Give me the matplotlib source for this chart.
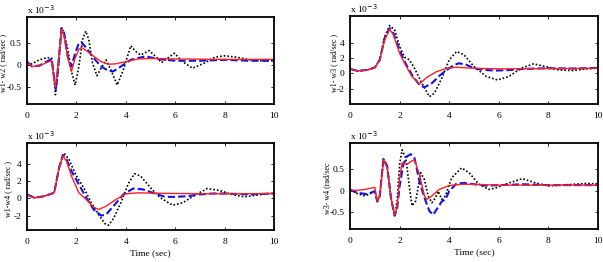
import matplotlib
matplotlib.use("Agg")
import matplotlib.pyplot as plt
import numpy as np

plt.rcParams['font.family'] = ['Liberation Serif', 'DejaVu Serif']

# ---------------- data (values in units of 1e-3 rad/sec) ----------------
# Panel 1: w1 - w2
p1_red_t = [0, 0.2, 0.5, 0.8, 1.0, 1.1, 1.15, 1.25, 1.4, 1.5, 1.65, 1.8, 1.95, 2.1, 2.2, 2.4, 2.7, 3.0, 3.3, 3.6, 4.0, 4.5, 5.0, 6.0, 8.0, 10]
p1_red_v = [0.06, -0.03, -0.02, 0.06, 0.10, -0.33, -0.50, -0.03, 0.82, 0.65, 0.16, -0.14, 0.16, 0.36, 0.40, 0.33, 0.20, 0.08, 0.02, 0.03, 0.08, 0.14, 0.15, 0.14, 0.13, 0.13]
p1_blue_t = [0, 0.2, 0.5, 0.8, 1.0, 1.1, 1.17, 1.25, 1.4, 1.5, 1.65, 1.8, 1.95, 2.1, 2.2, 2.4, 2.7, 3.0, 3.3, 3.5, 3.8, 4.2, 4.8, 5.3, 6.0, 7.0, 8.0, 9.0, 10]
p1_blue_v = [0.08, -0.03, -0.01, 0.08, 0.14, -0.30, -0.55, -0.11, 0.84, 0.73, 0.20, -0.03, 0.27, 0.50, 0.52, 0.39, 0.16, -0.03, -0.13, -0.14, -0.03, 0.12, 0.20, 0.14, 0.10, 0.10, 0.12, 0.10, 0.10]
p1_black_t = [0, 0.2, 0.5, 0.8, 1.0, 1.1, 1.15, 1.25, 1.4, 1.5, 1.65, 1.8, 1.95, 2.1, 2.25, 2.38, 2.5, 2.65, 2.83, 3.0, 3.2, 3.4, 3.65, 3.9, 4.2, 4.4, 4.6, 4.95, 5.2, 5.45, 5.7, 5.97, 6.3, 6.7, 7.2, 7.6, 8.0, 8.5, 9.0, 9.5, 10]
p1_black_v = [0.05, 0.03, 0.12, 0.17, 0.16, -0.33, -0.67, -0.18, 0.84, 0.73, 0.35, -0.14, -0.45, -0.03, 0.58, 0.77, 0.58, 0.05, -0.24, -0.07, 0.12, -0.11, -0.45, -0.11, 0.44, 0.31, 0.23, 0.33, 0.20, 0.06, 0.16, 0.27, 0.08, -0.07, 0.05, 0.18, 0.21, 0.18, 0.12, 0.10, 0.10]

# Panel 2: w1 - w3
p2_red_t = [0, 0.3, 0.7, 1.0, 1.2, 1.4, 1.6, 1.75, 2.0, 2.2, 2.5, 2.8, 3.1, 3.5, 3.9, 4.3, 5.0, 6.0, 8.0, 10]
p2_red_v = [0.57, 0.30, 0.43, 0.74, 1.74, 4.35, 5.74, 5.0, 2.61, 1.30, -0.43, -1.39, -0.52, 0.22, 0.65, 0.78, 0.65, 0.57, 0.61, 0.65]
p2_blue_t = [0, 0.3, 0.7, 1.0, 1.2, 1.4, 1.6, 1.75, 2.0, 2.2, 2.5, 2.8, 3.0, 3.3, 3.6, 3.9, 4.2, 4.4, 4.7, 5.0, 5.4, 5.9, 6.5, 7.0, 8.0, 9.0, 10]
p2_blue_v = [0.57, 0.30, 0.43, 0.74, 1.74, 4.57, 5.87, 5.22, 3.04, 1.52, -0.22, -1.52, -1.83, -1.30, -0.35, 0.43, 1.09, 1.30, 1.09, 0.65, 0.43, 0.35, 0.43, 0.57, 0.65, 0.61, 0.70]
p2_black_t = [0, 0.3, 0.7, 1.0, 1.2, 1.4, 1.6, 1.8, 2.0, 2.2, 2.4, 2.6, 2.9, 3.2, 3.4, 3.7, 4.0, 4.3, 4.6, 5.0, 5.5, 5.95, 6.4, 6.9, 7.4, 7.9, 8.4, 9.0, 9.5, 10]
p2_black_v = [0.57, 0.30, 0.43, 0.74, 1.74, 4.78, 6.22, 5.65, 3.48, 2.09, 1.74, 0.65, -1.30, -3.04, -2.61, -0.65, 1.74, 2.83, 2.39, 0.87, -0.43, -0.87, -0.43, 0.65, 1.22, 0.87, 0.43, 0.35, 0.57, 0.65]

# Panel 3: w1 - w4
p3_red_t = [0, 0.3, 0.7, 1.1, 1.3, 1.45, 1.6, 1.8, 2.1, 2.4, 2.7, 2.9, 3.2, 3.6, 4.0, 4.5, 5.0, 6.0, 8.0, 10]
p3_red_v = [0.39, 0.08, 0.27, 0.66, 3.57, 4.92, 4.34, 2.60, 0.66, -0.12, -1.01, -1.28, -0.89, -0.12, 0.54, 0.66, 0.62, 0.58, 0.54, 0.58]
p3_blue_t = [0, 0.3, 0.7, 1.1, 1.3, 1.45, 1.6, 1.8, 2.1, 2.4, 2.7, 3.0, 3.2, 3.5, 3.9, 4.3, 4.7, 5.2, 5.6, 6.0, 6.5, 7.0, 7.5, 8.0, 9.0, 10]
p3_blue_v = [0.47, 0.08, 0.27, 0.66, 3.57, 5.04, 4.53, 3.18, 1.63, 0.08, -1.28, -1.98, -1.86, -0.89, 0.47, 1.16, 1.05, 0.54, 0.19, 0.19, 0.27, 0.47, 0.58, 0.58, 0.47, 0.58]
p3_black_t = [0, 0.3, 0.7, 1.1, 1.3, 1.5, 1.7, 2.0, 2.3, 2.6, 2.9, 3.15, 3.3, 3.5, 3.8, 4.1, 4.35, 4.6, 5.0, 5.4, 5.9, 6.3, 6.8, 7.3, 7.8, 8.3, 8.8, 9.3, 9.8, 10]
p3_black_v = [0.47, 0.08, 0.27, 0.66, 3.57, 5.23, 4.53, 2.60, 1.24, -0.50, -1.86, -2.91, -3.10, -2.33, -0.50, 1.71, 2.87, 2.60, 1.24, 0.08, -0.78, -0.50, 0.39, 1.16, 0.93, 0.47, 0.19, 0.39, 0.58, 0.58]

# Panel 4: w3 - w4
p4_red_t = [0, 0.3, 0.6, 1.0, 1.05, 1.1, 1.2, 1.35, 1.5, 1.65, 1.8, 1.9, 2.0, 2.1, 2.3, 2.45, 2.6, 2.8, 3.0, 3.1, 3.3, 3.6, 4.0, 4.5, 5.0, 6.0, 8.0, 10]
p4_red_v = [0.01, 0.01, 0.03, 0.08, -0.08, -0.24, -0.12, 0.72, 0.53, -0.16, -0.57, -0.39, 0.30, 0.65, 0.61, 0.68, 0.72, 0.38, -0.12, -0.20, -0.12, 0.03, 0.12, 0.15, 0.15, 0.13, 0.13, 0.13]
p4_blue_t = [0, 0.3, 0.7, 1.0, 1.1, 1.2, 1.35, 1.5, 1.65, 1.8, 1.9, 2.0, 2.15, 2.3, 2.45, 2.6, 2.8, 3.0, 3.2, 3.35, 3.5, 3.7, 3.85, 4.0, 4.3, 4.6, 5.0, 5.5, 6.0, 7.0, 8.0, 10]
p4_blue_v = [0.03, -0.05, -0.08, -0.01, -0.25, -0.12, 0.74, 0.57, -0.16, -0.58, -0.43, 0.11, 0.61, 0.80, 0.85, 0.76, 0.22, -0.16, -0.47, -0.56, -0.43, -0.25, -0.20, -0.01, 0.17, 0.18, 0.15, 0.12, 0.13, 0.15, 0.13, 0.13]
p4_black_t = [0, 0.3, 0.6, 0.9, 1.0, 1.1, 1.2, 1.35, 1.5, 1.65, 1.8, 1.9, 2.0, 2.1, 2.25, 2.4, 2.5, 2.65, 2.85, 3.0, 3.15, 3.3, 3.45, 3.55, 3.7, 3.85, 4.1, 4.5, 4.8, 5.2, 5.6, 5.9, 6.4, 6.95, 7.5, 8.0, 8.5, 9.0, 9.5, 10]
p4_black_v = [0.03, -0.07, -0.12, -0.05, -0.01, -0.25, -0.12, 0.74, 0.57, -0.16, -0.58, -0.24, 0.61, 0.95, 0.76, 0.07, -0.35, -0.24, 0.42, 0.26, -0.12, -0.28, -0.16, -0.01, -0.20, -0.12, 0.30, 0.53, 0.42, 0.15, 0.03, 0.07, 0.18, 0.28, 0.18, 0.11, 0.13, 0.15, 0.17, 0.16]

ylabels = ["w1- w2 ( rad/sec )", "w1- w3 ( rad/sec )", "w1-w4 ( rad/sec )", "w3- w4 (rad/sec"]
xticks = [0, 2, 4, 6, 8, 10]
yticks_list = [[-0.5, 0, 0.5], [-2, 0, 2, 4], [-2, 0, 2, 4], [-0.5, 0, 0.5]]
yticklabels_list = [["-0.5", "0", "0.5"], ["-2", "0", "2", "4"], ["-2", "0", "2", "4"], ["-0.5", "0", "0.5"]]
ylims = [(-0.88, 1.09), (-4.0, 7.45), (-3.65, 6.43), (-0.89, 1.11)]

panels = [
    (p1_red_t, p1_red_v, p1_blue_t, p1_blue_v, p1_black_t, p1_black_v),
    (p2_red_t, p2_red_v, p2_blue_t, p2_blue_v, p2_black_t, p2_black_v),
    (p3_red_t, p3_red_v, p3_blue_t, p3_blue_v, p3_black_t, p3_black_v),
    (p4_red_t, p4_red_v, p4_blue_t, p4_blue_v, p4_black_t, p4_black_v),
]

W, H = 603, 262
fig = plt.figure(figsize=(W / 100, H / 100), dpi=100)
# axes rectangles in pixels: (left, top, right, bottom)
rects = [(27, 17, 274, 104), (350, 16, 598, 104), (27, 143, 274, 230), (350, 143, 598, 229)]
ylabel_x = [-0.082, -0.048, -0.058, -0.074]

FS = 6.8
for i, (rt, rv, bt, bv, kt, kv) in enumerate(panels):
    l, t, r, b = rects[i]
    ax = fig.add_axes([l / W, 1 - b / H, (r - l) / W, (b - t) / H])
    ax.plot(kt, kv, color='black', linestyle=(0, (1, 1.2)), linewidth=1.2)
    ax.plot(bt, bv, color='#1010ee', linestyle=(0, (3.5, 1.5)), linewidth=1.5)
    ax.plot(rt, rv, color='#ff2020', linestyle='-', linewidth=1.0)
    ax.set_xlim(0, 10)
    ax.set_ylim(*ylims[i])
    ax.set_xticks(xticks)
    ax.set_xticklabels([str(x) for x in xticks], fontsize=FS)
    ax.set_yticks(yticks_list[i])
    ax.set_yticklabels(yticklabels_list[i], fontsize=FS)
    ax.tick_params(direction='in', length=2.5, width=0.6, top=True, right=True)
    ax.tick_params(axis='x', pad=6)
    ax.tick_params(axis='y', pad=4)
    for s in ax.spines.values():
        s.set_linewidth(1.3)
    ax.set_ylabel(ylabels[i], fontsize=5.8)
    ax.yaxis.set_label_coords(ylabel_x[i], 0.47)
    ax.text(0.0, 1.015, r'x 10$^{-3}$', transform=ax.transAxes, fontsize=FS,
            ha='left', va='bottom')
    if i >= 2:
        ax.set_xlabel("Time (sec)", fontsize=FS, labelpad=2)

fig.savefig("out.png", dpi=100)
